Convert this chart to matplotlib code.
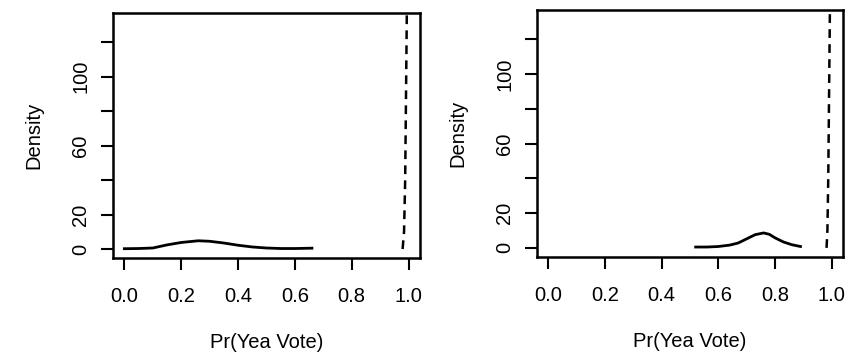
import matplotlib.pyplot as plt

plt.rcParams['font.family'] = ['Liberation Sans', 'DejaVu Sans']

# left panel: solid density curve
left_x = [0.0, 0.05, 0.1, 0.15, 0.2, 0.26, 0.3, 0.35, 0.4, 0.45, 0.5, 0.55, 0.6, 0.66]
left_y = [0.2, 0.3, 0.6, 2.4, 3.8, 4.8, 4.5, 3.5, 2.2, 1.2, 0.6, 0.3, 0.3, 0.5]
# left panel: dashed density (spike near 1)
left_dx = [0.979, 0.984, 0.988, 0.991, 0.994]
left_dy = [0, 10, 40, 90, 140]

# right panel: solid density curve
right_x = [0.52, 0.56, 0.6, 0.64, 0.67, 0.7, 0.73, 0.76, 0.78, 0.8, 0.83, 0.86, 0.89]
right_y = [0.5, 0.5, 0.8, 1.6, 2.8, 5.2, 7.6, 8.6, 7.8, 5.8, 3.4, 1.8, 0.8]
# right panel: dashed density (spike near 1)
right_dx = [0.982, 0.985, 0.988, 0.991, 0.994]
right_dy = [0, 10, 40, 90, 140]

yticks = [0, 20, 40, 60, 80, 100, 120]
ylabels = ['0', '20', '', '60', '', '100', '']
xticks = [0.0, 0.2, 0.4, 0.6, 0.8, 1.0]

fig = plt.figure(figsize=(8.56, 3.57), dpi=100)
ax1 = fig.add_axes([0.132, 0.277, 0.3586, 0.6863])
ax2 = fig.add_axes([0.6273, 0.280, 0.3575, 0.692])

panels = [(ax1, left_x, left_y, left_dx, left_dy),
          (ax2, right_x, right_y, right_dx, right_dy)]

for ax, sx, sy, dx, dy in panels:
    ax.plot(sx, sy, color='black', lw=2)
    ax.plot(dx, dy, color='black', lw=1.8, linestyle=(0, (3.5, 2.5)))
    ax.set_xlim(-0.04, 1.04)
    ax.set_ylim(-5.26, 136.8)
    ax.set_xticks(xticks)
    ax.set_xticklabels(['%.1f' % v for v in xticks])
    ax.set_yticks(yticks)
    ax.set_yticklabels(ylabels, rotation=90, va='center')
    ax.tick_params(axis='both', direction='out', length=8.5, width=1.5,
                   labelsize=14.5, color='black')
    ax.tick_params(axis='x', pad=12)
    ax.tick_params(axis='y', pad=8)
    for s in ax.spines.values():
        s.set_linewidth(1.8)
    ax.set_xlabel('Pr(Yea Vote)', fontsize=14.5, labelpad=20)
    ax.set_ylabel('Density', fontsize=14.5, labelpad=20)

fig.savefig('out.png', dpi=100)
